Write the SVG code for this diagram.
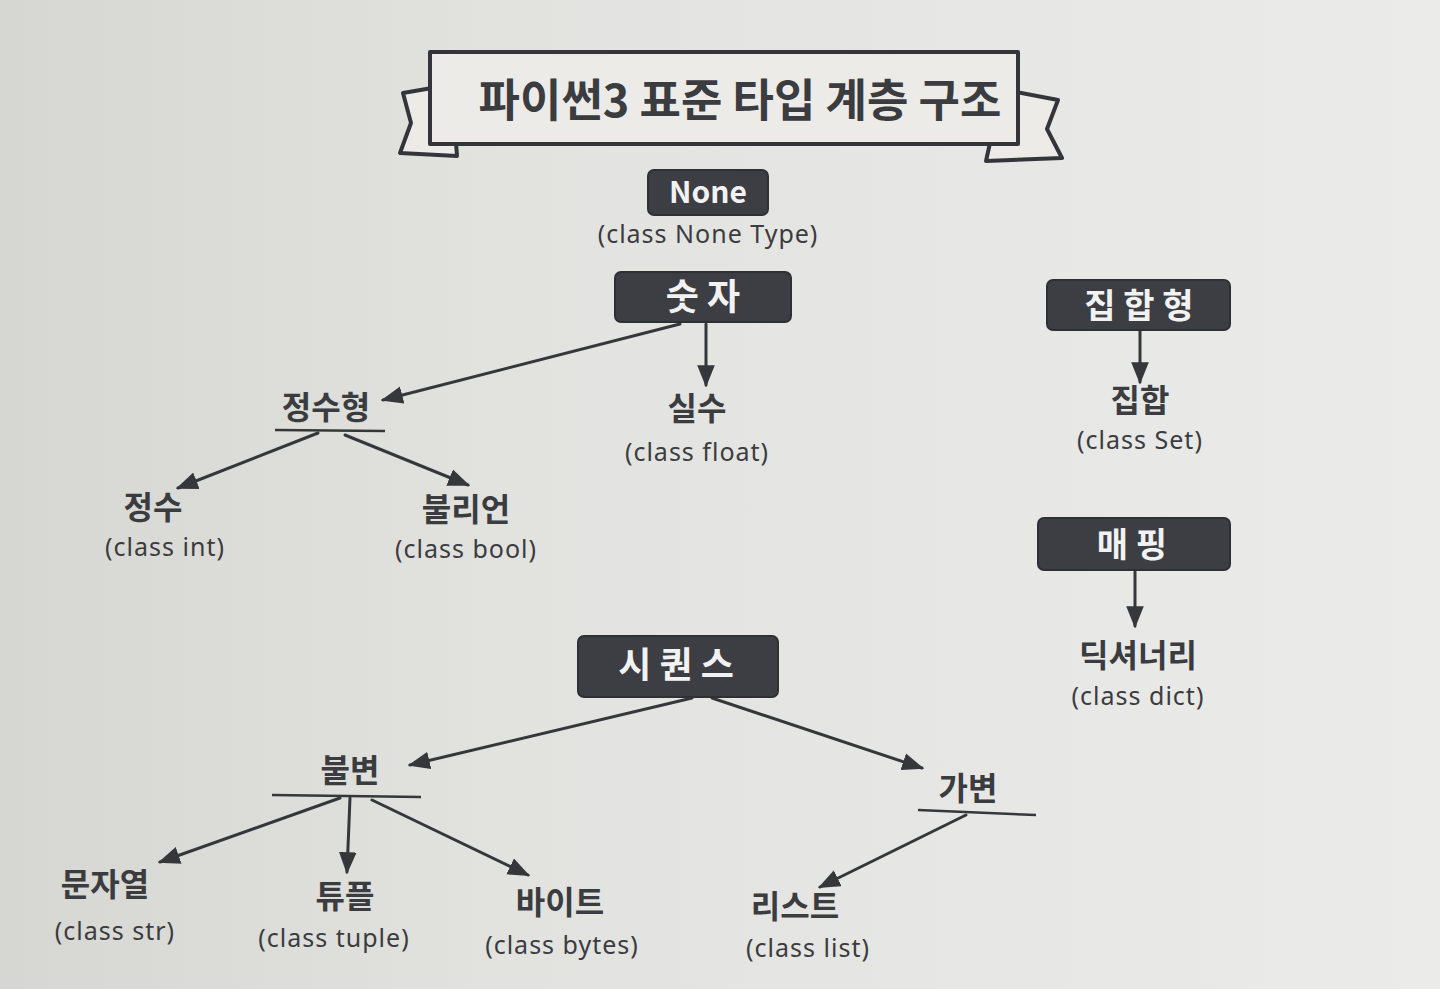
<svg xmlns="http://www.w3.org/2000/svg" width="1440" height="989" viewBox="0 0 1440 989">
<defs>
<linearGradient id="bg" x1="0" y1="0" x2="1" y2="0">
<stop offset="0" stop-color="#d6d6d2"/>
<stop offset="0.35" stop-color="#e2e2df"/>
<stop offset="1" stop-color="#ebebea"/>
</linearGradient>
<marker id="ah" viewBox="0 0 20 16" refX="18" refY="8" markerWidth="22" markerHeight="18" markerUnits="userSpaceOnUse" orient="auto">
<path d="M0,0 L20,8 L0,16 Z" fill="#35373b"/>
</marker>
<style>
.box{fill:#3c3e43;stroke:#2e3034;stroke-width:2}
.bt{fill:#f2f2f2;font-family:"Noto Sans CJK KR","Noto Sans",sans-serif;font-weight:700;text-anchor:middle}
.kt{fill:#3a3c40;font-family:"Noto Sans CJK KR",sans-serif;font-weight:700;font-size:32px;text-anchor:middle}
.ct{fill:#3a3c40;font-family:"Noto Sans","Noto Sans CJK KR",sans-serif;font-size:25px;text-anchor:middle;letter-spacing:1px}
.ln{stroke:#35373b;stroke-width:3;fill:none;stroke-linecap:round}
.ul{stroke:#35373b;stroke-width:2.5;fill:none}
.ban{fill:#ecebe8;stroke:#33353a;stroke-width:4;stroke-linejoin:round}
</style>
</defs>
<rect width="1440" height="989" fill="url(#bg)"/>

<g id="title">
<path class="ban" d="M432,88 L403,93 L411,123 L400,153 L457,156 L456,143 Z"/>
<path class="ban" d="M1016,92 L1058,100 L1047,129 L1062,158 L986,161 L990,143 Z"/>
<rect class="ban" x="430" y="52" width="588" height="92"/>
<text x="740" y="117" style="fill:#3a3c40;font-family:'Noto Sans CJK KR',sans-serif;font-weight:700;font-size:45px;text-anchor:middle">파이썬3 표준 타입 계층 구조</text>
</g>

<g id="connectors">
<line class="ln" x1="680" y1="324" x2="383" y2="400" marker-end="url(#ah)"/>
<line class="ln" x1="706" y1="324" x2="706" y2="385" marker-end="url(#ah)"/>
<line class="ln" x1="318" y1="433" x2="178" y2="488" marker-end="url(#ah)"/>
<line class="ln" x1="345" y1="435" x2="468" y2="485" marker-end="url(#ah)"/>
<line class="ln" x1="1140" y1="330" x2="1140" y2="382" marker-end="url(#ah)"/>
<line class="ln" x1="1135" y1="571" x2="1135" y2="626" marker-end="url(#ah)"/>
<line class="ln" x1="692" y1="698" x2="410" y2="765" marker-end="url(#ah)"/>
<line class="ln" x1="712" y1="698" x2="922" y2="768" marker-end="url(#ah)"/>
<line class="ln" x1="340" y1="798" x2="160" y2="862" marker-end="url(#ah)"/>
<line class="ln" x1="350" y1="798" x2="347" y2="872" marker-end="url(#ah)"/>
<line class="ln" x1="372" y1="800" x2="528" y2="875" marker-end="url(#ah)"/>
<line class="ln" x1="966" y1="815" x2="820" y2="887" marker-end="url(#ah)"/>
</g>

<g id="none">
<rect class="box" x="648" y="170" width="120" height="45" rx="6"/>
<text class="bt" x="708" y="203" font-size="30">None</text>
<text class="ct" x="708" y="243">(class None Type)</text>
</g>

<g id="number">
<rect class="box" x="615" y="272" width="176" height="50" rx="6"/>
<text class="bt" x="703" y="310" font-size="36">숫 자</text>
</g>

<g id="integral">
<text class="kt" x="326" y="419">정수형</text>
<line class="ul" x1="275" y1="430" x2="385" y2="431"/>
</g>

<g id="float">
<text class="kt" x="697" y="420">실수</text>
<text class="ct" x="697" y="461">(class float)</text>
</g>

<g id="int">
<text class="kt" x="153" y="519">정수</text>
<text class="ct" x="165" y="556">(class int)</text>
</g>

<g id="bool">
<text class="kt" x="466" y="521">불리언</text>
<text class="ct" x="466" y="558">(class bool)</text>
</g>

<g id="set-type">
<rect class="box" x="1047" y="280" width="183" height="50" rx="6"/>
<text class="bt" x="1139" y="318" font-size="34">집 합 형</text>
</g>

<g id="set">
<text class="kt" x="1140" y="412">집합</text>
<text class="ct" x="1140" y="449">(class Set)</text>
</g>

<g id="mapping">
<rect class="box" x="1038" y="518" width="192" height="52" rx="6"/>
<text class="bt" x="1132" y="557" font-size="34">매 핑</text>
</g>

<g id="dict">
<text class="kt" x="1138" y="667">딕셔너리</text>
<text class="ct" x="1138" y="705">(class dict)</text>
</g>

<g id="sequence">
<rect class="box" x="578" y="636" width="200" height="61" rx="6"/>
<text class="bt" x="676" y="678" font-size="36">시 퀀 스</text>
</g>

<g id="immutable">
<text class="kt" x="350" y="782">불변</text>
<line class="ul" x1="272" y1="795" x2="421" y2="797"/>
</g>

<g id="mutable">
<text class="kt" x="968" y="800">가변</text>
<line class="ul" x1="918" y1="810" x2="1036" y2="815"/>
</g>

<g id="str">
<text class="kt" x="105" y="896">문자열</text>
<text class="ct" x="115" y="940">(class str)</text>
</g>

<g id="tuple">
<text class="kt" x="345" y="908">튜플</text>
<text class="ct" x="334" y="947">(class tuple)</text>
</g>

<g id="bytes">
<text class="kt" x="560" y="914">바이트</text>
<text class="ct" x="562" y="954">(class bytes)</text>
</g>

<g id="list">
<text class="kt" x="795" y="918">리스트</text>
<text class="ct" x="808" y="957">(class list)</text>
</g>
</svg>
